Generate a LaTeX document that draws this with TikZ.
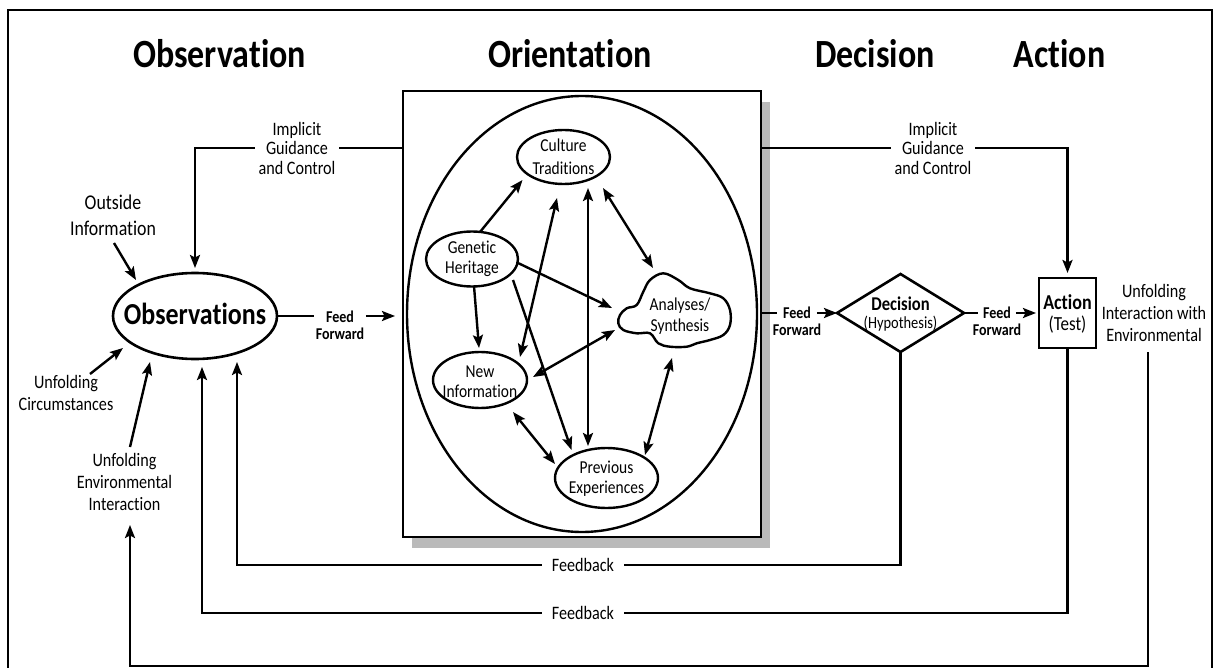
\documentclass[tikz,border=0pt]{standalone}
\usepackage{fontspec}
\setmainfont{Carlito}[FakeStretch=0.85, Ligatures={NoCommon,NoContextual}]
\usetikzlibrary{arrows.meta,shapes.geometric,calc}
\begin{document}
\begin{tikzpicture}[x=1pt,y=-1pt,line width=2.4pt,
  every node/.style={inner sep=0pt, outer sep=0pt},
  ell/.style={draw, ellipse, inner sep=0pt},
  lbl/.style={align=center, font=\fontsize{18.2}{20}\selectfont},
  olbl/.style={align=center, font=\fontsize{19}{22}\selectfont},
  iglbl/.style={align=center, font=\fontsize{19}{19.5}\selectfont, inner xsep=4pt},
  ttl/.style={anchor=base, font=\fontsize{40}{48}\selectfont\bfseries},
  ff/.style={font=\fontsize{16.5}{18}\selectfont\bfseries},
  arr/.style={-{Stealth[length=13pt,width=10pt,inset=2.5pt]}},
  darr/.style={{Stealth[length=13pt,width=10pt,inset=2.5pt]}-{Stealth[length=13pt,width=10pt,inset=2.5pt]}},
]
\useasboundingbox (0,0) rectangle (1214,668);
\clip (0,0) rectangle (1214,668);
\fill[white] (0,0) rectangle (1214,668);
% frame
\draw[line width=2pt] (8,720) -- (8,10) -- (1212,10) -- (1212,720);

% titles
\node[ttl] (t1) at (219.5,68) {Observation};
\node[ttl] (t2) at (570,68) {Orientation};
\node[ttl] (t3) at (875,68) {Decision};
\node[ttl] (t4) at (1059.5,68) {Action};

% orientation box with shadow
\fill[black!27] (412,102) rectangle (770,548);
\node[draw, fill=white, line width=2.6pt, minimum width=358pt, minimum height=446pt] (OR) at (582,314) {};
\node[ell, minimum width=350pt, minimum height=436pt] (BE) at (582,314) {};

% inner ellipses
\node[ell, minimum width=93pt, minimum height=54pt] (CT) at (563.5,157) {};
\node[lbl, font=\fontsize{18.2}{23}\selectfont] (CTt) at (CT) {Culture\\Traditions};
\node[ell, minimum width=92pt, minimum height=55pt] (GH) at (472,259) {};
\node[lbl] (GHt) at (GH) {Genetic\\Heritage};
\node[ell, minimum width=94pt, minimum height=56pt] (NI) at (480,380) {};
\node[lbl] (NIt) at ($(NI)+(0,2)$) {New\\Information};
\node[ell, minimum width=103pt, minimum height=60pt] (PE) at (606.5,478) {};
\node[lbl] (PEt) at ($(PE)+(0,1)$) {Previous\\Experiences};
\coordinate (AS) at (676,311);
\draw plot[smooth cycle, tension=0.6] coordinates {(618.3,323.3) (620,315) (626.7,308.3) (636.7,305) (643.3,291.7) (650,280) (663.3,273.3) (678.3,280) (690,288.3) (710,293.3) (723.3,298.3) (730,310) (730,325) (723.3,335) (710,340) (696.7,343.3) (686.7,346.7) (670,346.7) (658.3,343.3) (650,333.3) (636.7,333.3) (623.3,330)};
\node[lbl, font=\fontsize{18.2}{21}\selectfont] (ASt) at (680,316) {Analyses/\\Synthesis};

% inner connectors
\draw[arr] ($(GH)+(8,-27)$) -- ($(CT)+(-41,23)$);
\draw[arr] ($(GH)+(2,27)$) -- ($(NI)+(-1,-32)$);
\draw[arr] ($(GH)+(46,4)$) -- ($(AS)+(-64,-3)$);
\draw[arr] ($(GH)+(41,21)$) -- ($(PE)+(-35,-28)$);
\draw[darr] ($(NI)+(40,-23)$) -- ($(CT)+(-6.5,41)$);
\draw[darr] ($(PE)+(-18.5,-32)$) -- ($(CT)+(24.5,31)$);
\draw[darr] ($(CT)+(39.5,31)$) -- ($(AS)+(-23,-43)$);
\draw[darr] ($(NI)+(53,-3)$) -- ($(AS)+(-61,19)$);
\draw[darr] ($(NI)+(33,32)$) -- ($(PE)+(-51.5,-14)$);
\draw[darr] ($(AS)+(-4,47)$) -- ($(PE)+(38.5,-23)$);

% observations
\node[ell, line width=2.6pt, minimum width=164pt, minimum height=86pt] (OBS) at (195,316) {};
\node[font=\fontsize{30.5}{34}\selectfont\bfseries] (OBSt) at (195,314) {Observations};

% decision and action
\node[draw, diamond, minimum width=127pt, minimum height=78pt, inner sep=0pt, line width=2.6pt] (DEC) at (900.5,313) {};
\node[align=center, font=\fontsize{17}{18}\selectfont] (DECt) at (900.5,314) {{\fontsize{19.5}{18}\selectfont\bfseries Decision}\\(Hypothesis)};
\node[draw, line width=2.4pt, minimum width=57pt, minimum height=70pt] (ACT) at (1067.5,313) {};
\node[align=center, font=\fontsize{20}{21.7}\selectfont] (ACTt) at (1067.5,314) {{\fontsize{21.2}{21.7}\selectfont\bfseries Action}\\(Test)};

% feed forward 1
\node[ff, inner xsep=12pt] (FF1a) at (340,317) {Feed};
\node[ff] (FF1b) at (340,334) {Forward};
\draw (OBS.east) -- (FF1a.west |- OBS.east);
\draw[arr, shorten >=8pt] (FF1a.east |- OBS.east) -- (OR.west |- OBS.east);
% feed forward 2
\node[ff, inner xsep=6pt] (FF2a) at (797,313) {Feed};
\node[ff] (FF2b) at (797,330) {Forward};
\draw (OR.east |- DEC.west) -- (FF2a.west |- DEC.west);
\draw[arr] (FF2a.east |- DEC.west) -- (DEC.west);
% feed forward 3
\node[ff, inner xsep=5pt] (FF3a) at (997,313) {Feed};
\node[ff] (FF3b) at (997,330) {Forward};
\draw (DEC.east) -- (FF3a.west |- DEC.east);
\draw[arr, shorten >=3pt] (FF3a.east |- DEC.east) -- (ACT.west |- DEC.east);

% implicit guidance
\node[iglbl] (IGL) at (297,148) {Implicit\\Guidance\\and Control};
\draw (OR.west |- IGL) -- (IGL.east);
\draw[arr] (IGL.west) -| ($(OBS)+(0,-48)$);
\node[iglbl] (IGR) at (933,148) {Implicit\\Guidance\\and Control};
\draw (OR.east |- IGR) -- (IGR.west);
\draw[arr, shorten >=5pt] (IGR.east) -| (ACT.north);

% outer labels
\node[align=center, font=\fontsize{21}{26}\selectfont] (OUT) at (113,215) {Outside\\Information};
\draw[arr] ($(OUT)+(1,28)$) -- ($(OBS)+(-59,-36)$);
\node[olbl] (UC) at (66,393) {Unfolding\\Circumstances};
\draw[arr] ($(UC)+(24,-19)$) -- ($(OBS)+(-72,32)$);
\node[olbl] (UEI) at (124.5,482) {Unfolding\\Environmental\\Interaction};
\draw[arr] ($(UEI)+(5.5,-35)$) -- ($(OBS)+(-45,46)$);
\node[olbl] (UIE) at (1154,313) {Unfolding\\Interaction with\\Environmental};
\draw[arr] ($(UIE)+(-6,39)$) -- ++(0,314) -| ($(UEI)+(5.5,43)$);

% feedback loops
\node[olbl, inner xsep=10pt] (FB1) at (583,565) {Feedback};
\draw (DEC.south) |- (FB1.east);
\draw[arr] (FB1.west) -| ($(OBS)+(42,46)$);
\node[olbl, inner xsep=10pt] (FB2) at (583,613) {Feedback};
\draw (ACT.south) |- (FB2.east);
\draw[arr] (FB2.west) -| ($(OBS)+(7,51)$);
\end{tikzpicture}
\end{document}
